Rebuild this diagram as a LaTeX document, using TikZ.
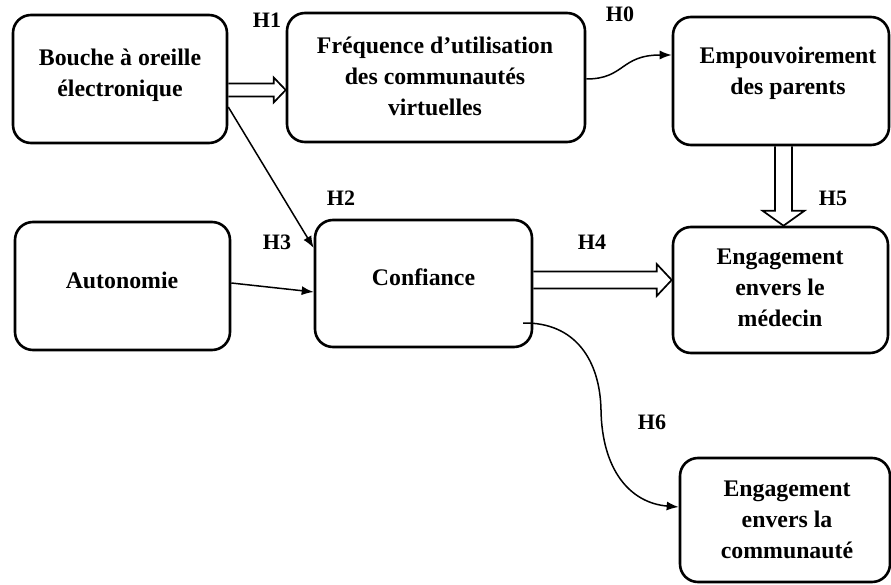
\documentclass[tikz,border=0pt]{standalone}
\usepackage{fontspec}
\setmainfont{Liberation Serif}
\usetikzlibrary{arrows.meta,calc}
\tikzset{
  box/.style={draw, line width=2.6pt, rounded corners=18pt, inner sep=0pt},
  txt/.style={font=\fontsize{23.8}{31}\selectfont\bfseries, align=center, inner sep=0pt},
  hlab/.style={font=\fontsize{22}{26}\selectfont\bfseries, inner sep=0pt},
  thinarrow/.style={line width=1.5pt, -{Latex[length=12pt,width=9pt]}},
  blockarrow/.style n args={3}{line width=1.7pt, line join=miter, to path={
    let \p1=(\tikztostart), \p2=(\tikztotarget),
        \n1={atan2(\y2-\y1,\x2-\x1)}, \n2={veclen(\x2-\x1,\y2-\y1)} in
    {[shift={(\p1)}, rotate=\n1]
      (0pt,-#1) -- (\n2-#3,-#1) -- (\n2-#3,-#2) -- (\n2,0pt) -- (\n2-#3,#2) -- (\n2-#3,#1) -- (0pt,#1)}
  }},
}
\begin{document}
\begin{tikzpicture}[x=1pt,y=-1pt]
\useasboundingbox (0,0) rectangle (891,585);
% boxes
\node[box, minimum width=214pt, minimum height=128pt] (b1) at (120,79) {};
\node[box, minimum width=298pt, minimum height=129pt] (b2) at (436,77.5) {};
\node[box, minimum width=216pt, minimum height=128pt] (b3) at (781,81) {};
\node[box, minimum width=215pt, minimum height=128pt] (b4) at (122.5,286) {};
\node[box, minimum width=217pt, minimum height=127pt] (b5) at (423.5,283.5) {};
\node[box, minimum width=215pt, minimum height=126pt] (b6) at (780.5,290) {};
\node[box, minimum width=210pt, minimum height=124pt] (b7) at (785,520) {};
% texts
\node[txt] (t1) at (120,75) {Bouche à oreille\\électronique};
\node[txt] (t2) at (435,76) {Fréquence d’utilisation\\des communautés\\virtuelles};
\node[txt] (t3) at (788,73) {Empouvoirement\\des parents};
\node[txt] (t4) at (122,280) {Autonomie};
\node[txt] (t5) at (423.5,277) {Confiance};
\node[txt] (t6) at (780,288) {Engagement\\envers le\\médecin};
\node[txt] (t7) at (787,520) {Engagement\\envers la\\communauté};
% labels
\node[hlab] (h1) at (267,20) {H1};
\node[hlab] (h0) at (620,14) {H0};
\node[hlab] (h2) at (341,198) {H2};
\node[hlab] (h3) at (277,242) {H3};
\node[hlab] (h4) at (592,242) {H4};
\node[hlab] (h5) at (833,198) {H5};
\node[hlab] (h6) at (652,422) {H6};
% connector end points
\coordinate (h1s) at ([yshift=-11pt]b1.east);
\coordinate (h4s) at ([yshift=3.5pt]b5.east);
\coordinate (h5s) at ([xshift=2.5pt]b3.south);
\coordinate (h2s) at ([yshift=-28pt]b1.east);
\coordinate (h2e) at ([yshift=35.5pt]b5.west);
\coordinate (h3s) at ([yshift=3pt]b4.east);
\coordinate (h3e) at ([yshift=-8.5pt]b5.west);
\coordinate (h0s) at ([yshift=-1.5pt]b2.east);
\coordinate (h0e) at ([yshift=26pt]b3.west);
\coordinate (h6s) at (523,323);
\coordinate (h6e) at ([yshift=13pt]b7.west);
% block arrows
\draw[blockarrow={6.5pt}{12.5pt}{12pt}] (h1s) to (h1s -| b2.west);
\draw[blockarrow={8.5pt}{16pt}{15pt}] (h4s) to (h4s -| b6.west);
\draw[blockarrow={8.5pt}{21pt}{15pt}] (h5s) to (h5s |- b6.north);
% thin arrows
\draw[thinarrow] (h2s) -- (h2e);
\draw[thinarrow] (h3s) -- (h3e);
\draw[thinarrow] (h0s) .. controls (625,79) and (620,55) .. (h0e);
\draw[thinarrow] (h6s) .. controls (575,322) and (600,360) .. (601,410)
  .. controls (602,470) and (630,503) .. (h6e);
\end{tikzpicture}
\end{document}
